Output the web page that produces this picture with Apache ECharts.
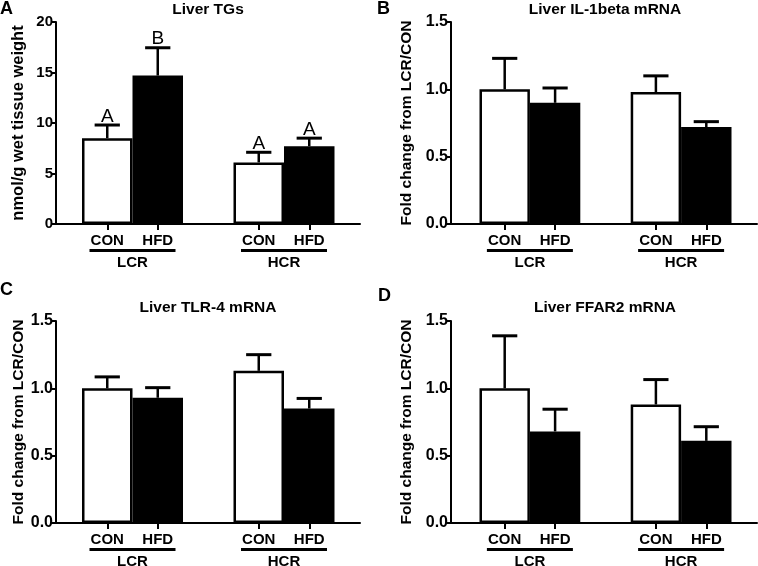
<!DOCTYPE html>
<html>
<head>
<meta charset="utf-8">
<script src="https://cdn.jsdelivr.net/npm/echarts@6/dist/echarts.min.js"></script>
<style>html,body{margin:0;padding:0;background:#fff}#c{width:758px;height:566px}</style>
</head>
<body>
<div id="c"></div>
<script>
// ---- data ----
const groups = ['LCR', 'HCR'];
const diets = ['CON', 'HFD'];
const panelLetters = ['A', 'B', 'C', 'D'];
const panelTitles = ['Liver TGs', 'Liver IL-1beta mRNA', 'Liver TLR-4 mRNA', 'Liver FFAR2 mRNA'];
const yNames = ['nmol/g wet tissue weight', 'Fold change from LCR/CON', 'Fold change from LCR/CON', 'Fold change from LCR/CON'];
const yMax = [20, 1.5, 1.5, 1.5];
const yInterval = [5, 0.5, 0.5, 0.5];
const yDecimals = [0, 1, 1, 1];
// order: LCR-CON, LCR-HFD, HCR-CON, HCR-HFD
const tgMean = [8.5, 14.7, 6.1, 7.7];
const tgErr = [1.3, 2.75, 1.0, 0.8];
const tgLetters = ['A', 'B', 'A', 'A'];
const il1bMean = [1.0, 0.9, 0.98, 0.72];
const il1bErr = [0.23, 0.11, 0.12, 0.04];
const tlr4Mean = [1.0, 0.93, 1.13, 0.85];
const tlr4Err = [0.085, 0.075, 0.12, 0.075];
const ffar2Mean = [1.0, 0.68, 0.88, 0.61];
const ffar2Err = [0.39, 0.165, 0.185, 0.105];

const means = [tgMean, il1bMean, tlr4Mean, ffar2Mean];
const errs = [tgErr, il1bErr, tlr4Err, ffar2Err];
const letters = [tgLetters, null, null, null];

// ---- layout ----
const FONT = 'Liberation Sans, Arial, Helvetica, sans-serif';
const frames = [
  {left: 56, top: 22, width: 304, height: 202},
  {left: 451, top: 22, width: 306, height: 202},
  {left: 56, top: 321, width: 304, height: 202},
  {left: 451, top: 321, width: 306, height: 202}
];
const barBoxes = [
  {left: 82, width: 252.5},
  {left: 479.5, width: 252},
  {left: 82, width: 252.5},
  {left: 479.5, width: 252}
];
const nameGaps = [29, 36, 29, 36];
const nameSizes = [16.5, 15.5, 15.5, 15.5];
const tickSizes = [15, 16, 16, 16];
const titlePos = [[208, 2], [605, 2], [208, 300], [605, 300]];
const letterPos = [[0, 0], [377, 0], [0, 281], [378, 287]];

// categories with an empty gap slot between groups
const barCats = [diets[0], diets[1], '', diets[0], diets[1]];
const groupCats = ['', groups[0], '', '', groups[1], ''];
const slotIdx = [0, 1, 3, 4];

const grid = [], xAxis = [], yAxis = [], series = [], title = [];

for (let p = 0; p < 4; p++) {
  const f = frames[p], b = barBoxes[p];
  grid.push({left: f.left, top: f.top, width: f.width, height: f.height, outerBoundsMode: 'none', containLabel: false});
  grid.push({left: b.left, top: f.top, width: b.width, height: f.height, outerBoundsMode: 'none', containLabel: false});
  const gFrame = 2 * p, gBar = 2 * p + 1;
  // frame x axis (line only)
  xAxis.push({type: 'category', gridIndex: gFrame, data: [''], position: 'bottom',
    axisLine: {show: true, lineStyle: {color: '#000', width: 2}},
    axisTick: {show: false}, axisLabel: {show: false}, splitLine: {show: false}});
  // bar x axis (CON/HFD labels, ticks)
  xAxis.push({type: 'category', gridIndex: gBar, data: barCats, position: 'bottom',
    axisLine: {show: false},
    axisTick: {show: true, alignWithLabel: true, length: 6, interval: (i, v) => v !== '',
      lineStyle: {color: '#000', width: 2}},
    axisLabel: {interval: 0, margin: 9, color: '#000', fontFamily: FONT, fontSize: 15, fontWeight: 'bold'},
    splitLine: {show: false}});
  // group label axis (underline + LCR/HCR)
  xAxis.push({type: 'category', gridIndex: gBar, data: groupCats, position: 'bottom', boundaryGap: false,
    axisLine: {show: false}, axisTick: {show: false}, splitLine: {show: false},
    axisLabel: {interval: 0, margin: 25, showMinLabel: true, showMaxLabel: true,
      formatter: v => v ? '{u|}\n{g|' + v + '}' : '',
      rich: {
        u: {width: 86, height: 3, lineHeight: 3, backgroundColor: '#000'},
        g: {fontFamily: FONT, fontSize: 15, fontWeight: 'bold', color: '#000', lineHeight: 21}
      }}});
  const dec = yDecimals[p];
  yAxis.push({type: 'value', gridIndex: gFrame, min: 0, max: yMax[p], interval: yInterval[p],
    name: yNames[p], nameLocation: 'middle', nameGap: nameGaps[p],
    nameTextStyle: {fontFamily: FONT, fontSize: nameSizes[p], fontWeight: 'bold', color: '#000'},
    axisLine: {show: true, lineStyle: {color: '#000', width: 2}},
    axisTick: {show: true, length: 5, lineStyle: {color: '#000', width: 2}},
    axisLabel: {margin: 3, color: '#000', fontFamily: FONT, fontSize: tickSizes[p], fontWeight: 'bold',
      formatter: v => v.toFixed(dec)},
    splitLine: {show: false}});
  yAxis.push({type: 'value', gridIndex: gBar, min: 0, max: yMax[p], interval: yInterval[p], show: false});

  const m = means[p], e = errs[p], L = letters[p];
  const barData = barCats.map(() => '-');
  slotIdx.forEach((s, k) => {
    barData[s] = {value: m[k], itemStyle: {color: k % 2 === 0 ? '#fff' : '#000'}};
  });
  series.push({type: 'bar', xAxisIndex: 3 * p + 1, yAxisIndex: 2 * p + 1, data: barData,
    barCategoryGap: '0%', barGap: '0%',
    itemStyle: {borderColor: '#000', borderWidth: 2.5}, silent: true, animation: false});
  series.push({type: 'custom', xAxisIndex: 3 * p + 1, yAxisIndex: 2 * p + 1, z: 5, silent: true, animation: false,
    data: slotIdx.map((s, k) => [s, m[k], e[k]]),
    renderItem: (params, api) => {
      const x = api.value(0), mv = api.value(1), ev = api.value(2);
      const base = api.coord([x, mv]);
      const top = api.coord([x, mv + ev]);
      const half = api.size([1, 0])[0] * 0.25;
      const children = [
        {type: 'line', shape: {x1: base[0], y1: base[1], x2: top[0], y2: top[1]}, style: {stroke: '#000', lineWidth: 2.5}},
        {type: 'line', shape: {x1: top[0] - half, y1: top[1], x2: top[0] + half, y2: top[1]}, style: {stroke: '#000', lineWidth: 3}}
      ];
      if (L) {
        children.push({type: 'text', x: top[0], y: top[1] + 1,
          style: {text: L[params.dataIndex], align: 'center', verticalAlign: 'bottom',
            font: '19px ' + FONT, fill: '#000'}});
      }
      return {type: 'group', children};
    }});

  title.push({text: panelTitles[p], left: titlePos[p][0], top: titlePos[p][1], textAlign: 'center', padding: 0,
    textStyle: {fontFamily: FONT, fontSize: 15.5, fontWeight: 'bold', color: '#000'}});
  title.push({text: panelLetters[p], left: letterPos[p][0], top: letterPos[p][1], padding: 0,
    textStyle: {fontFamily: FONT, fontSize: 18, fontWeight: 'bold', color: '#000'}});
}

const chart = echarts.init(document.getElementById('c'), null, {renderer: 'canvas'});
chart.setOption({animation: false, backgroundColor: '#fff', title, grid, xAxis, yAxis, series});
</script>
</body>
</html>
